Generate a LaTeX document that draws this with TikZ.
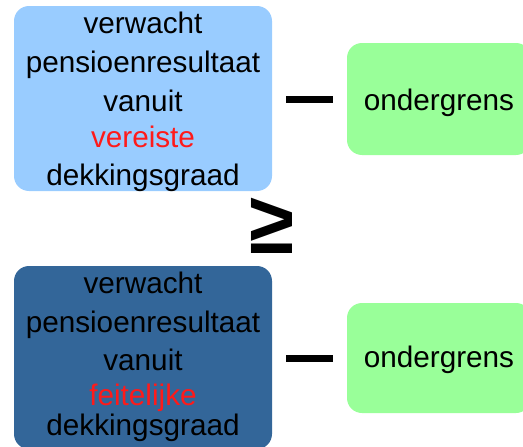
\documentclass[tikz,border=0pt]{standalone}
\usepackage{fontspec}
\setmainfont{Liberation Sans}
\definecolor{topblue}{HTML}{99CCFF}
\definecolor{botblue}{HTML}{336699}
\definecolor{lightgreen}{HTML}{99FF99}
\definecolor{redword}{HTML}{FF1A1A}
\begin{document}
\begin{tikzpicture}[x=1pt,y=-1pt,
  panel/.style={rounded corners=15pt, inner sep=0pt, draw=none},
  bigtext/.style={font=\fontsize{29.7}{39}\selectfont, align=center, inner sep=0pt, text=black},
  minusbar/.style={fill=black, inner sep=0pt, minimum width=47pt, minimum height=7pt, draw=none},
  geq/.style={font=\fontsize{78}{78}\selectfont\bfseries, inner sep=0pt}
]
\useasboundingbox (0,0) rectangle (523,447);
\clip (0,0) rectangle (523,447);

% top row
\node[panel, fill=topblue, minimum width=258pt, minimum height=185pt] (reqbox) at (143,98.5) {};
\node[bigtext, anchor=base] (reqtext) at (143,185)
  {verwacht\\pensioenresultaat\\vanuit\\[-3pt]\textcolor{redword}{vereiste}\\[-1pt]dekkingsgraad};
\node[minusbar] (minus1) at (309.5,99.5) {};
\node[panel, fill=lightgreen, minimum width=184pt, minimum height=112pt] (low1) at (439,99) {};
\node[bigtext, anchor=base] (low1text) at (439,110) {ondergrens};

% comparison sign
\node[geq] (cmp) at (271.5,226) {\scalebox{1.05}[1.12]{≥}};

% bottom row
\node[panel, fill=botblue, minimum width=258pt, minimum height=183pt] (actbox) at (143,357.5) {};
\node[bigtext, anchor=base] (acttext) at (143,435)
  {verwacht\\pensioenresultaat\\[-1pt]vanuit\\[-4pt]\textcolor{redword}{feitelijke}\\[-9pt]dekkingsgraad};
\node[minusbar] (minus2) at (309.5,358.5) {};
\node[panel, fill=lightgreen, minimum width=184pt, minimum height=110pt] (low2) at (439,358) {};
\node[bigtext, anchor=base] (low2text) at (439,367) {ondergrens};
\end{tikzpicture}
\end{document}
